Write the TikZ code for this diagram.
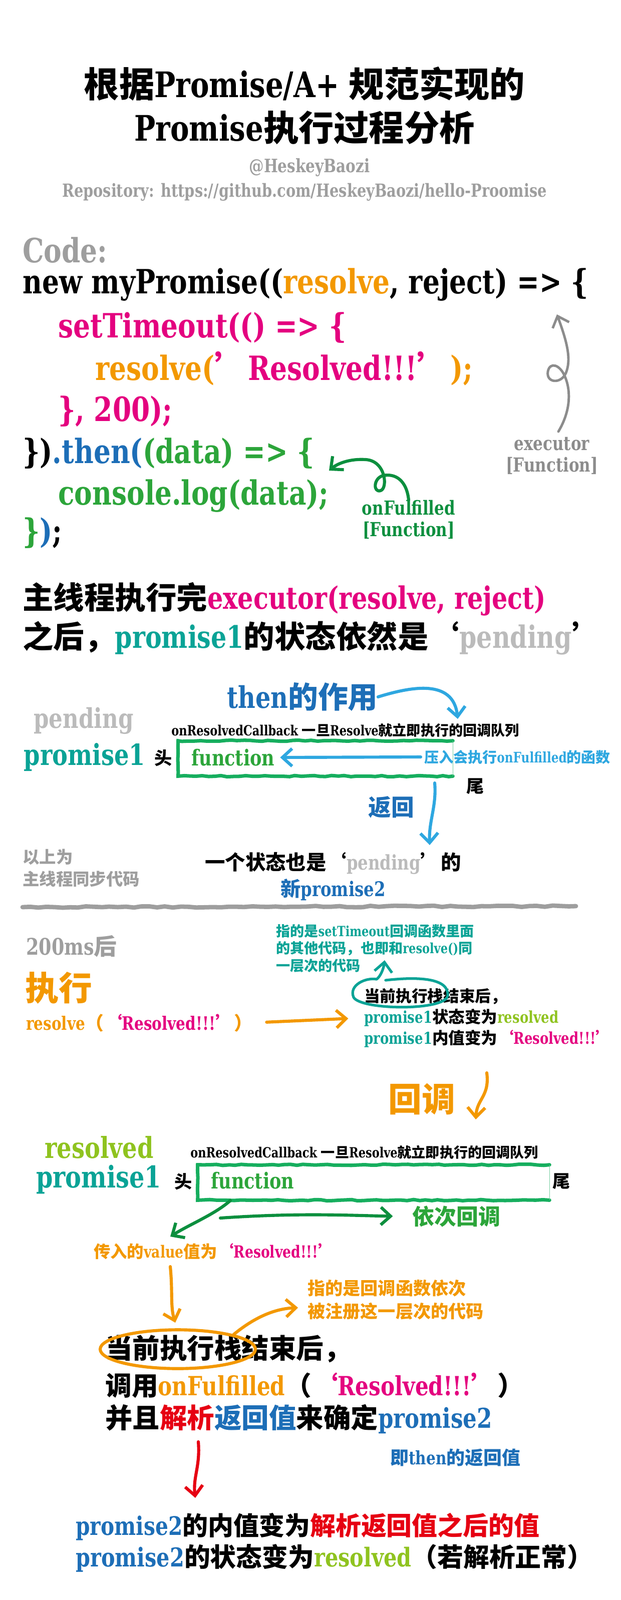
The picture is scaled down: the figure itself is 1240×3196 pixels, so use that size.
\documentclass[tikz,border=0pt]{standalone}
\usepackage{fontspec}
\usetikzlibrary{arrows.meta,shapes.geometric,decorations.pathmorphing}

\setmainfont{DejaVu Serif}[FakeStretch=0.8]
\newfontfamily\zhfont{Noto Sans CJK SC}

% Chinese characters switch to the CJK font by themselves
\XeTeXinterchartokenstate=1
\chardef\zhcls=7
\newcount\zhcode
\def\setzhrange#1#2{%
  \zhcode=#1
  \loop
    \XeTeXcharclass\zhcode=\zhcls
    \ifnum\zhcode<#2 \advance\zhcode by 1
  \repeat}
\setzhrange{"4E00}{"9FFF}
\setzhrange{"3000}{"303F}
\setzhrange{"FF00}{"FF60}
\setzhrange{"2018}{"201D}
\XeTeXinterchartoks 0 \zhcls = {\zhfont}
\XeTeXinterchartoks 4095 \zhcls = {\zhfont}
\XeTeXinterchartoks \zhcls 0 = {\rmfamily}
\XeTeXinterchartoks \zhcls 4095 = {\rmfamily}

\definecolor{hgray}{HTML}{9E9E9E}
\definecolor{lgray}{HTML}{BBBBBB}
\definecolor{exgray}{HTML}{8C8C8C}
\definecolor{horange}{HTML}{F39800}
\definecolor{hmagenta}{HTML}{E4007F}
\definecolor{hblue}{HTML}{1D6EB7}
\definecolor{skyblue}{HTML}{2EA7E0}
\definecolor{hgreen}{HTML}{2CA53A}
\definecolor{dgreen}{HTML}{0C8F3E}
\definecolor{boxgreen}{HTML}{16AE5E}
\definecolor{hteal}{HTML}{0AA396}
\definecolor{ygreen}{HTML}{8FC31F}
\definecolor{hred}{HTML}{E60012}

\begin{document}
\begin{tikzpicture}[x=0.02cm, y=-0.02cm, font=\bfseries]
    \tikzset{
        txt/.style={inner sep=0pt, font=\bfseries\fontsize{#1}{#1}\selectfont},
        lefttxt/.style={txt=#1, anchor=west},
        code/.style={lefttxt=38pt},
        handarrow/.style={
            line width=3.5pt, line cap=round, line join=round,
            -{Straight Barb[length=11pt, width=20pt]}
        },
        bluearrow/.style={handarrow, draw=skyblue},
        orangearrow/.style={handarrow, draw=horange},
        greenarrow/.style={handarrow, draw=dgreen},
        tealarrow/.style={handarrow, draw=hteal},
        grayarrow/.style={handarrow, line width=2.8pt, draw=exgray},
        redarrow/.style={handarrow, draw=hred},
        queuebox/.style={minimum width=#1, minimum height=1.4cm, inner sep=0pt},
        qline/.style={
            draw=boxgreen, line width=4pt, line cap=round,
            decorate, decoration={random steps, segment length=7pt, amplitude=0.7pt}
        },
        divider/.style={
            draw=hgray, line width=5pt, line cap=round,
            decorate, decoration={random steps, segment length=9pt, amplitude=0.8pt}
        }
    }
    \fill[white] (0,0) rectangle (1240,3196);
    \useasboundingbox (0,0) rectangle (1240,3196);

    % title
    \node[txt=40pt] (title1) at (608,167) {根据Promise/A+ 规范实现的};
    \node[txt=40pt] (title2) at (608,255) {Promise执行过程分析};
    \node[txt=21pt, text=hgray] (author) at (618,335) {@HeskeyBaozi};
    \node[txt=20.5pt, text=hgray] (repo) at (608,384)
        {Repository: https://github.com/HeskeyBaozi/hello-Proomise};

    % code
    \node[code, text=hgray] (codelabel) at (45,500) {Code:};
    \node[code] (line1) at (45,569) {new myPromise((\textcolor{horange}{resolve}, reject) => \{};
    \node[code, text=hmagenta] (line2) at (116,655) {setTimeout(() => \{};
    \node[code] (line3) at (190,736)
        {\textcolor{horange}{resolve(}\textcolor{hmagenta}{’Resolved!!!’}\textcolor{horange}{);}};
    \node[code, text=hmagenta] (line4) at (116,822) {\}, 200);};
    \node[code] (line5) at (45,906) {\})\textcolor{hblue}{.then(}\textcolor{hgreen}{(data) => \{}};
    \node[code, text=hgreen] (line6) at (116,991) {console.log(data);};
    \node[code] (line7) at (45,1065) {\textcolor{hgreen}{\}}\textcolor{hblue}{)};};

    \node[txt=22pt, text=exgray] (executor) at (1102,887) {executor};
    \node[txt=22pt, text=exgray] (exfunc) at (1102,930) {[Function]};
    \coordinate (exfoot) at (1115,862);
    \coordinate (exhead) at (1112,628);
    \draw[grayarrow] (exfoot) .. controls (1140,820) and (1140,780) .. (1128,752)
        .. controls (1118,728) and (1098,722) .. (1094,742)
        .. controls (1090,765) and (1120,768) .. (1130,745)
        .. controls (1140,720) and (1135,690) .. (exhead);

    \node[txt=22pt, text=dgreen] (onful) at (816,1014) {onFulfilled};
    \node[txt=22pt, text=dgreen] (onfunc) at (816,1059) {[Function]};
    \coordinate (onhead) at (657,940);
    \draw[greenarrow] (onful.north) .. controls (812,960) and (790,945) .. (765,950)
        .. controls (745,955) and (745,985) .. (760,980)
        .. controls (775,975) and (770,920) .. (730,918)
        .. controls (700,916) and (675,925) .. (onhead);

    % after executor
    \node[lefttxt=35pt] (mainA) at (45,1197) {主线程执行完\textcolor{hmagenta}{executor(resolve, reject)}};
    \node[lefttxt=35pt] (mainB) at (45,1275)
        {之后，\textcolor{hteal}{promise1}的状态依然是‘\textcolor{lgray}{pending}’};

    % then
    \node[txt=34pt, text=hblue] (thenuse) at (604,1392) {then的作用};
    \node[txt=31pt, text=lgray] (pendA) at (167,1440) {pending};
    \node[txt=33pt, text=hteal] (promA) at (169,1512) {promise1};
    \node[txt=20pt] (headA) at (326,1514) {头};
    \node[lefttxt=16pt] (queueA) at (342,1459) {onResolvedCallback 一旦Resolve就立即执行的回调队列};
    \node[queuebox=10.96cm] (boxA) at (630,1515) {};
    \draw[qline] (boxA.north east) -- (boxA.north west) -- (boxA.south west) -- (boxA.south east);
    \draw[boxgreen!60, line width=0.8pt] (boxA.north east) -- (boxA.south east);
    \node[lefttxt=25pt, text=hgreen] (fnA) at (382,1513) {function};
    \node[lefttxt=16.5pt, text=skyblue] (push) at (847,1512) {压入会执行onFulfilled的函数};
    \node[txt=20pt] (tailA) at (949,1571) {尾};
    \coordinate (thenhead) at (914,1436);
    \draw[bluearrow] (thenuse.east) .. controls (820,1372) and (905,1355) .. (thenhead);
    \draw[bluearrow, shorten <=4pt, shorten >=6pt] (push.west) -- (fnA.east);

    \node[txt=26pt, text=hblue] (ret) at (781,1612) {返回};
    \coordinate (retstart) at (868,1564);
    \coordinate (retend) at (858,1688);
    \draw[bluearrow] (retstart) .. controls (872,1610) and (856,1640) .. (retend);

    \node[lefttxt=19pt, text=hgray] (syncA) at (45,1712) {以上为};
    \node[lefttxt=19pt, text=hgray] (syncB) at (45,1756) {主线程同步代码};
    \node[txt=23pt] (newstate) at (665,1724) {一个状态也是‘\textcolor{lgray}{pending}’的};
    \node[txt=23pt, text=hblue] (newp) at (665,1777) {新promise2};
    \draw[divider] (45,1812) -- (1150,1810);

    % 200ms later
    \node[lefttxt=26pt, text=hgray] (after) at (52,1890) {200ms后};
    \node[lefttxt=38pt, text=horange] (exec) at (50,1973) {执行};
    \node[lefttxt=21pt, text=horange] (rescall) at (52,2043) {resolve（\textcolor{hmagenta}{‘Resolved!!!’}）};

    \node[lefttxt=16pt, text=hteal] (noteA) at (551,1860) {指的是setTimeout回调函数里面};
    \node[lefttxt=16pt, text=hteal] (noteB) at (551,1895) {的其他代码，也即和resolve()同};
    \node[lefttxt=16pt, text=hteal] (noteC) at (551,1929) {一层次的代码};
    \node[lefttxt=18pt] (stackA) at (727,1990) {当前执行栈结束后，};
    \node[lefttxt=18.5pt] (stateA) at (727,2033)
        {\textcolor{hteal}{promise1}状态变为\textcolor{ygreen}{resolved}};
    \node[lefttxt=18.5pt] (valueA) at (727,2075)
        {\textcolor{hteal}{promise1}内值变为\textcolor{hmagenta}{‘Resolved!!!’}};
    \draw[orangearrow, shorten <=16pt, shorten >=18pt] (rescall.east) -- (stateA.west);
    \coordinate (ringtop) at (770,1958);
    \coordinate (ringhead) at (768,1918);
    \draw[tealarrow, line width=3pt] (ringtop) .. controls (840,1950) and (896,1955) .. (894,1988)
        .. controls (892,2020) and (720,2018) .. (706,1992)
        .. controls (696,1968) and (730,1952) .. (752,1956)
        .. controls (760,1950) and (766,1935) .. (ringhead);

    % callback
    \node[txt=38pt, text=horange] (callback) at (842,2195) {回调};
    \coordinate (cbstart) at (972,2143);
    \coordinate (cbhead) at (950,2236);
    \draw[orangearrow] (cbstart) .. controls (978,2190) and (952,2195) .. (cbhead);

    \node[txt=33pt, text=ygreen] (resB) at (198,2292) {resolved};
    \node[txt=34pt, text=hteal] (promB) at (197,2356) {promise1};
    \node[txt=20pt] (headB) at (366,2360) {头};
    \node[lefttxt=16pt] (queueB) at (380,2302) {onResolvedCallback 一旦Resolve就立即执行的回调队列};
    \node[queuebox=14.04cm] (boxB) at (746,2362) {};
    \draw[qline] (boxB.north east) -- (boxB.north west) -- (boxB.south west) -- (boxB.south east);
    \draw[boxgreen!60, line width=0.8pt] (boxB.north east) -- (boxB.south east);
    \node[lefttxt=25pt, text=hgreen] (fnB) at (421,2358) {function};
    \node[txt=20pt] (tailB) at (1121,2360) {尾};
    \node[lefttxt=25pt, text=hgreen] (order) at (823,2430) {依次回调};
    \node[txt=19pt, text=horange] (passval) at (428,2500) {传入的value值为\textcolor{hmagenta}{‘Resolved!!!’}};
    \coordinate (passstart) at (460,2398);
    \coordinate (passhead) at (340,2470);
    \draw[greenarrow] (passstart) .. controls (430,2425) and (380,2445) .. (passhead);
    \coordinate (seqstart) at (440,2433);
    \draw[greenarrow, shorten >=22pt] (seqstart) .. controls (600,2422) and (700,2428) .. (order.west);

    % onFulfilled called
    \coordinate (downstart) at (340,2530);
    \coordinate (downhead) at (350,2642);
    \draw[orangearrow] (downstart) .. controls (345,2580) and (340,2610) .. (downhead);
    \node[lefttxt=20pt, text=horange] (noteD) at (614,2573) {指的是回调函数依次};
    \node[lefttxt=20pt, text=horange] (noteE) at (614,2619) {被注册这一层次的代码};
    \node[lefttxt=31pt] (stackB) at (210,2694) {当前执行栈结束后，};
    \node[ellipse, draw=horange, line width=3.5pt, minimum width=6.2cm, minimum height=1.55cm]
        (ring) at (355,2695) {};
    \coordinate (ringnote) at (595,2612);
    \draw[orangearrow] (ring.north east) .. controls (510,2630) and (550,2614) .. (ringnote);
    \node[lefttxt=30pt] (callB) at (210,2767)
        {调用\textcolor{horange}{onFulfilled}（\textcolor{hmagenta}{‘Resolved!!!’}）};
    \node[lefttxt=31pt] (parseB) at (210,2834)
        {并且\textcolor{hred}{解析}\textcolor{hblue}{返回值}来确定\textcolor{hblue}{promise2}};
    \node[lefttxt=21pt, text=hblue] (thenret) at (779,2912) {即then的返回值};
    \coordinate (redstart) at (396,2880);
    \coordinate (redhead) at (390,2992);
    \draw[redarrow] (redstart) .. controls (400,2930) and (385,2950) .. (redhead);

    % promise2
    \node[lefttxt=29pt] (finalA) at (151,3050)
        {\textcolor{hblue}{promise2}的内值变为\textcolor{hred}{解析返回值之后的值}};
    \node[lefttxt=29.5pt] (finalB) at (151,3112)
        {\textcolor{hblue}{promise2}的状态变为\textcolor{ygreen}{resolved}（若解析正常）};
\end{tikzpicture}
\end{document}
